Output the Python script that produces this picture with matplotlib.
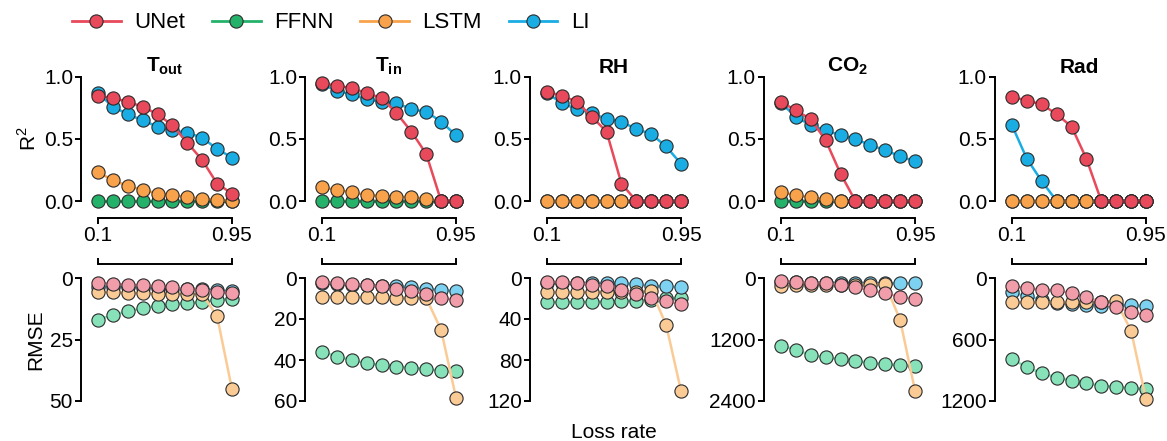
import matplotlib.pyplot as plt
from matplotlib.lines import Line2D

plt.rcParams['font.family'] = ['Liberation Sans', 'DejaVu Sans']
plt.rcParams['mathtext.fontset'] = 'custom'
plt.rcParams['mathtext.rm'] = 'Liberation Sans'
plt.rcParams['mathtext.bf'] = 'Liberation Sans:bold'

loss_rates = [0.1, 0.2, 0.3, 0.4, 0.5, 0.6, 0.7, 0.8, 0.9, 0.95]
variables = [r'$\mathbf{T}_{\mathbf{out}}$', r'$\mathbf{T}_{\mathbf{in}}$', 'RH',
             r'$\mathbf{CO}_{\mathbf{2}}$', 'Rad']
models = ['UNet', 'FFNN', 'LSTM', 'LI']

# R2 per model, one row per variable
r2_unet = [
    [0.85, 0.83, 0.80, 0.76, 0.70, 0.61, 0.47, 0.33, 0.14, 0.06],
    [0.95, 0.93, 0.91, 0.87, 0.83, 0.71, 0.56, 0.38, 0.0, 0.0],
    [0.88, 0.85, 0.80, 0.68, 0.56, 0.14, 0.0, 0.0, 0.0, 0.0],
    [0.80, 0.73, 0.66, 0.49, 0.22, 0.0, 0.0, 0.0, 0.0, 0.0],
    [0.84, 0.81, 0.78, 0.70, 0.60, 0.34, 0.0, 0.0, 0.0, 0.0],
]
r2_ffnn = [
    [0.0] * 10,
    [0.0] * 10,
    [0.0] * 10,
    [0.0] * 10,
    [0.0] * 10,
]
r2_lstm = [
    [0.23, 0.17, 0.12, 0.09, 0.06, 0.05, 0.03, 0.02, 0.01, 0.0],
    [0.11, 0.09, 0.07, 0.05, 0.04, 0.035, 0.03, 0.02, 0.0, 0.0],
    [0.0] * 10,
    [0.075, 0.045, 0.03, 0.015, 0.0, 0.0, 0.0, 0.0, 0.0, 0.0],
    [0.0] * 10,
]
r2_li = [
    [0.87, 0.76, 0.70, 0.65, 0.60, 0.57, 0.55, 0.51, 0.42, 0.35],
    [0.94, 0.89, 0.86, 0.82, 0.80, 0.79, 0.74, 0.72, 0.64, 0.53],
    [0.87, 0.79, 0.74, 0.71, 0.66, 0.64, 0.58, 0.54, 0.44, 0.30],
    [0.79, 0.68, 0.61, 0.57, 0.53, 0.50, 0.45, 0.41, 0.36, 0.32],
    [0.61, 0.34, 0.16, 0.0, 0.0, 0.0, 0.0, 0.0, 0.0, 0.0],
]

# RMSE per model, one row per variable
rmse_unet = [
    [2.0, 2.3, 2.7, 3.0, 3.4, 3.8, 4.5, 5.0, 5.7, 6.1],
    [2.0, 2.4, 2.9, 3.6, 4.1, 5.4, 6.5, 7.8, 9.8, 10.6],
    [3.9, 3.9, 4.9, 6.5, 7.5, 11.4, 15.6, 19.6, 22.8, 25.1],
    [65, 78, 91, 104, 130, 176, 241, 294, 372, 404],
    [82, 98, 114, 121, 147, 189, 235, 287, 329, 362],
]
rmse_ffnn = [
    [17.0, 15.0, 13.6, 12.2, 11.3, 10.6, 10.2, 9.8, 8.8, 8.6],
    [35.9, 38.3, 40.0, 41.6, 42.4, 43.2, 43.7, 44.4, 45.2, 45.2],
    [23.5, 23.5, 23.5, 23.2, 23.0, 22.5, 22.0, 21.0, 19.5, 19.5],
    [1318, 1402, 1507, 1546, 1585, 1618, 1650, 1683, 1703, 1709],
    [792, 870, 929, 971, 1001, 1027, 1050, 1063, 1073, 1083],
]
rmse_lstm = [
    [5.8, 5.8, 6.1, 6.2, 6.4, 6.4, 6.4, 6.4, 15.6, 45.2],
    [9.3, 9.3, 9.4, 9.5, 9.5, 9.6, 9.7, 9.8, 25.3, 58.4],
    [14.0, 14.0, 14.0, 14.0, 14.0, 13.8, 13.5, 12.4, 45.6, 110.0],
    [150, 140, 135, 135, 130, 130, 128, 125, 815, 2200],
    [238, 238, 238, 238, 236, 234, 230, 228, 515, 1183],
]
rmse_li = [
    [3.5, 3.6, 3.8, 3.9, 4.1, 4.3, 4.6, 4.5, 5.0, 5.4],
    [2.5, 2.8, 3.2, 3.5, 3.7, 3.8, 4.6, 5.2, 5.7, 6.5],
    [5.0, 5.0, 5.0, 5.0, 5.0, 4.9, 5.9, 7.5, 8.2, 9.1],
    [80, 85, 88, 90, 95, 95, 100, 105, 100, 105],
    [140, 180, 210, 240, 250, 260, 270, 262, 267, 271],
]

rmse_max = [50, 60, 120, 2400, 1200]
rmse_ticks = [[0, 25, 50], [0, 20, 40, 60], [0, 40, 80, 120], [0, 1200, 2400], [0, 600, 1200]]

dark = {'UNet': '#E8495B', 'FFNN': '#24B26B', 'LSTM': '#F8A34B', 'LI': '#1AADE4'}
light = {'UNet': '#F19DAA', 'FFNN': '#87E1B9', 'LSTM': '#FBCB96', 'LI': '#7DD2F1'}
draw_order = ['FFNN', 'LI', 'LSTM', 'UNet']

r2_data = {'UNet': r2_unet, 'FFNN': r2_ffnn, 'LSTM': r2_lstm, 'LI': r2_li}
rmse_data = {'UNet': rmse_unet, 'FFNN': rmse_ffnn, 'LSTM': rmse_lstm, 'LI': rmse_li}

W, H = 1167, 441
fig = plt.figure(figsize=(W / 100, H / 100), dpi=100)

lefts = [98, 322, 547, 781, 1012]
panel_w = 134
x = list(range(len(loss_rates)))
fs = 15

for i in range(5):
    l = lefts[i] / W
    w = panel_w / W
    ax1 = fig.add_axes([l, 1 - 201 / H, w, 124 / H])
    ax2 = fig.add_axes([l, 1 - 401 / H, w, 123 / H])

    for m in draw_order:
        ax1.plot(x, r2_data[m][i], '-o', color=dark[m], lw=1.8, ms=9.5,
                 mec='#2b2b2b', mew=0.8, clip_on=False)
        ax2.plot(x, rmse_data[m][i], '-o', color=light[m], lw=1.8, ms=9.5,
                 mfc=light[m], mec='#2b2b2b', mew=0.8, clip_on=False)

    # top row
    ax1.set_xlim(0, 9)
    ax1.set_ylim(0, 1)
    ax1.set_yticks([0, 0.5, 1.0])
    ax1.set_yticklabels(['0.0', '0.5', '1.0'])
    ax1.set_xticks([0, 9])
    ax1.set_xticklabels(['0.1', '0.95'])
    ax1.spines[['top', 'right']].set_visible(False)
    ax1.spines['left'].set_position(('outward', 12))
    ax1.spines['bottom'].set_position(('outward', 12))
    ax1.set_title(variables[i], fontsize=fs, fontweight='bold', pad=2)

    # bottom row
    ax2.set_xlim(0, 9)
    ax2.set_ylim(rmse_max[i], 0)
    ax2.set_yticks(rmse_ticks[i])
    ax2.xaxis.tick_top()
    ax2.set_xticks([0, 9])
    ax2.set_xticklabels([])
    ax2.spines[['bottom', 'right']].set_visible(False)
    ax2.spines['left'].set_position(('outward', 12))
    ax2.spines['top'].set_position(('outward', 10))

    for ax in (ax1, ax2):
        for s in ax.spines.values():
            s.set_linewidth(1.4)
        ax.tick_params(width=1.4, length=4, labelsize=fs, pad=2)
        ax.patch.set_visible(False)

    if i == 0:
        ax1.set_ylabel('R$^2$', fontsize=fs, labelpad=3)
        ax2.set_ylabel('RMSE', fontsize=fs, labelpad=3)
    if i == 2:
        ax2.set_xlabel('Loss rate', fontsize=fs, labelpad=16)

handles = [Line2D([], [], color=dark[m], lw=2, marker='o', ms=9.5,
                  mec='#2b2b2b', mew=0.8) for m in models]
fig.legend(handles, models, loc='center left', bbox_to_anchor=(52 / W, 1 - 23 / H),
           ncol=4, frameon=False, fontsize=16, handlelength=2.2,
           handletextpad=0.6, columnspacing=1.2)

fig.savefig('out.png', dpi=100)
